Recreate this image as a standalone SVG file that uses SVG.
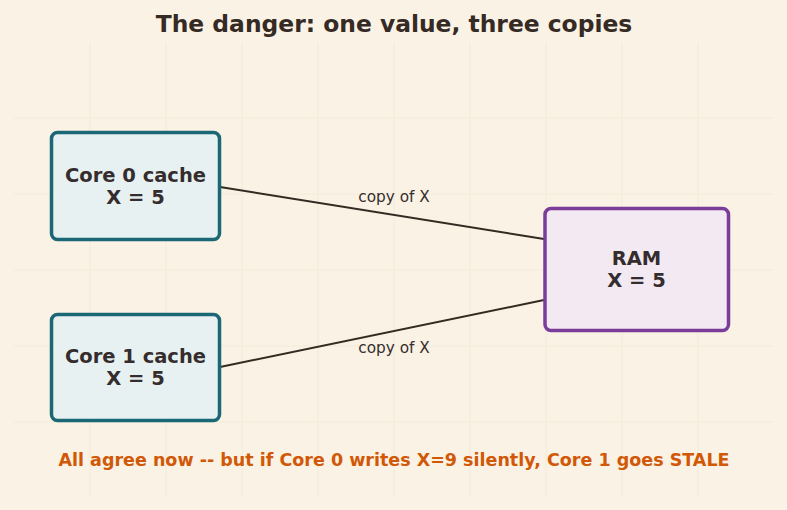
<svg xmlns="http://www.w3.org/2000/svg" width="787" height="510" viewBox="0 0 787 510">
  <style>
    .bg { fill: #faf2e4; }
    .grid line { stroke: #f3eadb; stroke-width: 1; }
    .title { font-family: "DejaVu Sans", sans-serif; font-weight: bold; font-size: 23.4px; fill: #352a24; text-anchor: middle; }
    .node-text { font-family: "DejaVu Sans", sans-serif; font-weight: bold; font-size: 19.5px; fill: #352d2d; text-anchor: middle; }
    .cache rect { fill: #e8f1f1; stroke: #1a6776; stroke-width: 3.5; }
    .ram rect { fill: #f2e9f2; stroke: #7b3d9a; stroke-width: 3.5; }
    .edge { stroke: #332a22; stroke-width: 2; fill: none; }
    .edge-label { font-family: "DejaVu Sans", sans-serif; font-size: 15.3px; fill: #352d2d; text-anchor: middle; }
    .note { font-family: "DejaVu Sans", sans-serif; font-weight: bold; font-size: 17.5px; fill: #d15806; text-anchor: middle; }
  </style>

  <rect class="bg" x="0" y="0" width="787" height="510"/>

  <!-- faint background grid -->
  <g class="grid">
    <line x1="90" y1="42" x2="90" y2="497"/>
    <line x1="166" y1="42" x2="166" y2="497"/>
    <line x1="242" y1="42" x2="242" y2="497"/>
    <line x1="318" y1="42" x2="318" y2="497"/>
    <line x1="394" y1="42" x2="394" y2="497"/>
    <line x1="470" y1="42" x2="470" y2="497"/>
    <line x1="546" y1="42" x2="546" y2="497"/>
    <line x1="622" y1="42" x2="622" y2="497"/>
    <line x1="698" y1="42" x2="698" y2="497"/>
    <line x1="14" y1="118" x2="772" y2="118"/>
    <line x1="14" y1="194" x2="772" y2="194"/>
    <line x1="14" y1="270" x2="772" y2="270"/>
    <line x1="14" y1="346" x2="772" y2="346"/>
    <line x1="14" y1="422" x2="772" y2="422"/>
  </g>

  <text class="title" x="394" y="32">The danger: one value, three copies</text>

  <!-- connectors -->
  <g id="connectors">
    <line class="edge" x1="220" y1="187" x2="544" y2="239"/>
    <line class="edge" x1="220" y1="367" x2="544" y2="300"/>
    <text class="edge-label" x="394" y="202">copy of X</text>
    <text class="edge-label" x="394" y="353">copy of X</text>
  </g>

  <g id="core0" class="cache">
    <rect x="51.5" y="132.5" width="168" height="107" rx="6"/>
    <text class="node-text" x="135.5" y="182">Core 0 cache</text>
    <text class="node-text" x="135.5" y="204">X = 5</text>
  </g>

  <g id="core1" class="cache">
    <rect x="51.5" y="314.5" width="168" height="106" rx="6"/>
    <text class="node-text" x="135.5" y="363">Core 1 cache</text>
    <text class="node-text" x="135.5" y="385">X = 5</text>
  </g>

  <g id="ram" class="ram">
    <rect x="545" y="208.5" width="183.5" height="122" rx="6"/>
    <text class="node-text" x="636.5" y="265">RAM</text>
    <text class="node-text" x="636.5" y="287">X = 5</text>
  </g>

  <text class="note" x="394" y="466">All agree now -- but if Core 0 writes X=9 silently, Core 1 goes STALE</text>
</svg>
